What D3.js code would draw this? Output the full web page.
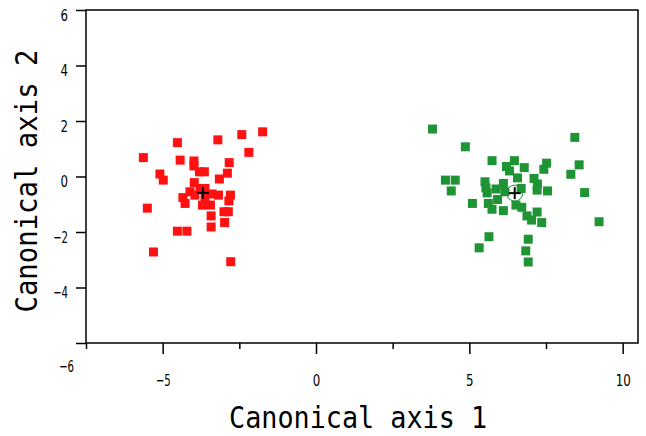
<!DOCTYPE html>
<html>
<head>
<meta charset="utf-8">
<script src="https://cdn.jsdelivr.net/npm/d3@7"></script>
<style>
  body { margin: 0; background: #fff; }
  svg { display: block; }
  .tick text { font-family: "DejaVu Sans", sans-serif; font-size: 16px; fill: #000; }
  .title { font-family: "DejaVu Sans Mono", monospace; font-size: 30px; fill: #000; }
</style>
</head>
<body>
<script>
// group 1 (red) scores
var redX = [-5.63, -4.52, -3.20, -2.42, -1.74, -2.19, -4.43, -3.98, -3.98, -2.83,
            -5.09, -4.98, -3.80, -3.64, -2.89, -3.15, -3.97, -5.50, -5.30, -2.78,
            -4.52, -4.21, -3.42, -3.42, -3.00, -2.86, -2.98, -2.79, -2.84, -4.34,
            -4.27, -3.70, -3.44, -3.39, -3.18, -4.11, -3.95, -3.78, -3.62, -3.62];
var redY = [0.68, 1.22, 1.32, 1.51, 1.61, 0.87, 0.59, 0.56, 0.38, 0.50,
            0.09, -0.13, 0.17, 0.17, 0.12, -0.09, -0.22, -1.14, -2.72, -3.07,
            -1.97, -1.97, -1.42, -1.82, -1.27, -1.27, -1.66, -0.67, -0.88, -0.76,
            -0.97, -1.03, -1.03, -0.63, -0.67, -0.55, -0.67, -0.43, -0.43, -0.73];

// group 2 (green) scores
var greenX = [3.80, 4.87, 5.74, 4.22, 4.54, 4.41, 5.10, 5.51, 5.54, 5.58,
              5.87, 6.11, 5.92, 5.62, 5.74, 6.11, 5.64, 5.32, 6.21, 6.47,
              6.31, 6.16, 6.57, 6.79, 7.11, 7.22, 7.21, 7.55, 7.52, 7.43,
              6.69, 6.52, 6.71, 7.21, 6.88, 7.03, 7.36, 6.92, 6.84, 6.92,
              8.44, 8.58, 8.31, 8.76, 9.23];
var greenY = [1.71, 1.07, 0.57, -0.13, -0.13, -0.52, -0.97, -0.19, -0.41, -0.59,
              -0.45, -0.25, -0.83, -0.97, -1.18, -1.23, -2.17, -2.57, 0.36, 0.57,
              0.20, -0.55, -0.05, 0.32, -0.07, -0.27, -0.49, -0.52, 0.48, 0.26,
              -0.43, -1.03, -1.11, -1.28, -1.42, -1.57, -1.66, -2.26, -2.68, -3.08,
              1.41, 0.42, 0.08, -0.58, -1.63];

// group means
var centerX = [-3.69, 6.48];
var centerY = [-0.59, -0.60];

var xTicks = [-7.5, -5, -2.5, 0, 2.5, 5, 7.5, 10];
var yTicks = [-6, -4, -2, 0, 2, 4, 6];

var width = 646, height = 436,
    plotLeft = 86, plotRight = 638, plotTop = 10, plotBottom = 343,
    size = 9,
    red = "#ff1111",
    green = "#1f9434";

var x = d3.scaleLinear().domain([-7.5, 10.5]).range([plotLeft, plotRight]);
var y = d3.scaleLinear().domain([-6, 6]).range([plotBottom, plotTop]);

var svg = d3.select("body").append("svg")
    .attr("width", width)
    .attr("height", height);

// points
var redPts = redX.map(function(v, i){ return [v, redY[i]]; });
var greenPts = greenX.map(function(v, i){ return [v, greenY[i]]; });

svg.append("g").selectAll("rect").data(redPts).enter().append("rect")
    .attr("x", function(d){ return x(d[0]) - size / 2; })
    .attr("y", function(d){ return y(d[1]) - size / 2; })
    .attr("width", size).attr("height", size)
    .attr("fill", red);

svg.append("g").selectAll("rect").data(greenPts).enter().append("rect")
    .attr("x", function(d){ return x(d[0]) - size / 2; })
    .attr("y", function(d){ return y(d[1]) - size / 2; })
    .attr("width", size).attr("height", size)
    .attr("fill", green);

// circle around green mean
svg.append("circle")
    .attr("cx", x(centerX[1])).attr("cy", y(centerY[1])).attr("r", 8)
    .attr("fill", "none").attr("stroke", green).attr("stroke-width", 1);

// mean crosses
for (var i = 0; i < centerX.length; i++) {
  var cx = x(centerX[i]), cy = y(centerY[i]);
  svg.append("line").attr("x1", cx - 6).attr("x2", cx + 6).attr("y1", cy).attr("y2", cy)
      .attr("stroke", "#000").attr("stroke-width", 2);
  svg.append("line").attr("x1", cx).attr("x2", cx).attr("y1", cy - 6).attr("y2", cy + 6)
      .attr("stroke", "#000").attr("stroke-width", 2);
}

// frame
svg.append("rect")
    .attr("x", plotLeft).attr("y", plotTop)
    .attr("width", plotRight - plotLeft).attr("height", plotBottom - plotTop)
    .attr("fill", "none").attr("stroke", "#000").attr("stroke-width", 1.5);

function fmt(v){ return v < 0 ? "\u2212" + Math.abs(v) : String(v); }

// narrow the tick digits a bit
function squeeze(sel){
  sel.each(function(){
    var t = d3.select(this), s = t.text();
    if (s.length) t.attr("textLength", s.length * 7.5).attr("lengthAdjust", "spacingAndGlyphs");
  });
}

// y axis
var yAxis = svg.append("g")
    .attr("transform", "translate(" + plotLeft + ",0)")
    .call(d3.axisLeft(y).tickValues(yTicks).tickSize(10).tickSizeOuter(0).tickPadding(8).tickFormat(fmt));
yAxis.select(".domain").remove();
yAxis.selectAll(".tick line").attr("stroke-width", 1.5);
yAxis.selectAll(".tick text").attr("y", 5).call(squeeze);
yAxis.selectAll(".tick").filter(function(d){ return d === -6; }).select("text")
    .attr("x", -12).attr("y", 23);

// x axis
var xAxis = svg.append("g")
    .attr("transform", "translate(0," + plotBottom + ")")
    .call(d3.axisBottom(x).tickValues(xTicks).tickSizeOuter(0)
      .tickFormat(function(d){ return d % 5 === 0 ? fmt(d) : ""; }));
xAxis.select(".domain").remove();
xAxis.selectAll(".tick line")
    .attr("y2", function(d){ return d % 5 === 0 ? 11 : 6; })
    .attr("stroke-width", 1.5);
xAxis.selectAll(".tick text").attr("y", 32).call(squeeze);

// axis titles
svg.append("text").attr("class", "title")
    .attr("x", 358).attr("y", 428)
    .attr("text-anchor", "middle")
    .attr("textLength", 258).attr("lengthAdjust", "spacingAndGlyphs")
    .text("Canonical axis 1");

svg.append("text").attr("class", "title")
    .attr("transform", "translate(37,181) rotate(-90)")
    .attr("text-anchor", "middle")
    .attr("textLength", 263).attr("lengthAdjust", "spacingAndGlyphs")
    .text("Canonical axis 2");
</script>
</body>
</html>
